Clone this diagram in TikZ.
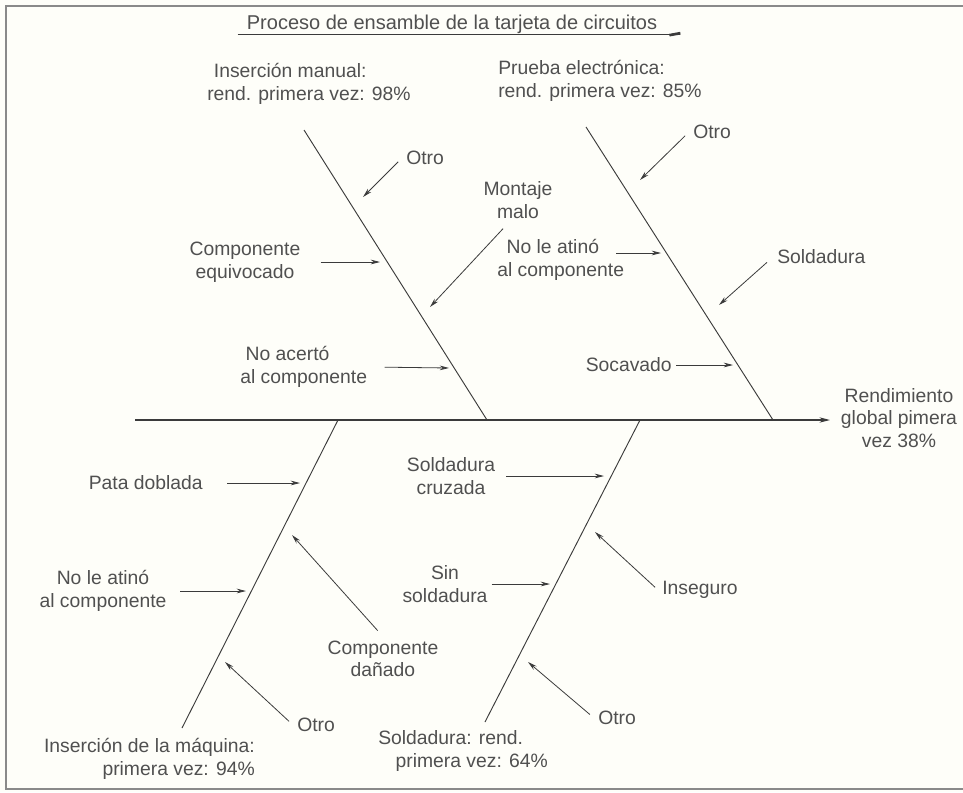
\documentclass[tikz,border=0pt]{standalone}
\usepackage{fontspec}
\setmainfont{Liberation Sans}
\usepackage{xcolor}
\usepackage{tikz}
\usetikzlibrary{arrows.meta, calc}
\definecolor{inkgray}{HTML}{3b3b3b}
\definecolor{textgray}{HTML}{505050}
\definecolor{framegray}{HTML}{8a8a8a}
\definecolor{paper}{HTML}{FEFEF9}
\tikzstyle{lbl} = [font=\fontsize{14.5}{17}\selectfont, text=textgray, inner sep=3pt]
\tikzstyle{bone} = [draw=inkgray, line width=0.7pt]
\tikzstyle{spine} = [draw=inkgray, line width=0.8pt, -{Stealth[length=8pt, width=4pt]}]
\tikzstyle{arrow} = [draw=inkgray, line width=0.6pt, -{Stealth[length=7pt, width=3.5pt]}]

\begin{document}
\begin{tikzpicture}[x=0.75pt, y=-0.75pt]
  \fill[paper] (0,0) rectangle (963,792);
  \useasboundingbox (0,0) rectangle (963,792);
  \draw[framegray, line width=1.2pt] (963,6) -- (6,6) -- (6,789) -- (963,789);

  \node (ttl) [lbl, font=\fontsize{15}{18}\selectfont] at (452,24) {Proceso de ensamble de la tarjeta de circuitos};
  \draw[inkgray, line width=0.8pt] ($(ttl.base west)+(-5,5)$) -- ($(ttl.base east)+(19,5)$);
  \draw[inkgray, line width=2pt] ($(ttl.base east)+(8,6)$) -- ($(ttl.base east)+(19,4)$);

  \coordinate (tail) at (135,420);
  \coordinate (head) at (830,420);
  \coordinate (ma) at (304,130); \coordinate (mb) at (487,420);
  \coordinate (pa) at (586,127); \coordinate (pb) at (773,420);
  \coordinate (ia) at (182,728); \coordinate (ib) at (338,420);
  \coordinate (sa) at (485,722); \coordinate (sb) at (640,420);

  \coordinate (m1) at (363,197);
  \coordinate (m2) at (380,262);
  \coordinate (m3) at (430,307);
  \coordinate (m4) at (449,368);
  \coordinate (p1) at (640,180);
  \coordinate (p2) at (661,253);
  \coordinate (p3) at (719,305);
  \coordinate (p4) at (733,365);
  \coordinate (i1) at (300,483);
  \coordinate (i2) at (292,535);
  \coordinate (i3) at (246,591);
  \coordinate (i4) at (225,662);
  \coordinate (s1) at (604,476);
  \coordinate (s2) at (595,532);
  \coordinate (s3) at (550,584);
  \coordinate (s4) at (528,662);

  \draw[spine] (tail) -- (head);
  \draw[bone] (ma) -- (mb);
  \draw[bone] (pa) -- (pb);
  \draw[bone] (ia) -- (ib);
  \draw[bone] (sa) -- (sb);

  \node (lMan) [lbl, anchor=west, align=left] at (203,84) {\hspace*{5pt}Inserción manual:\\rend. primera vez: 98\%};
  \node (lPru) [lbl, anchor=west, align=left] at (494,81) {Prueba electrónica:\\rend. primera vez: 85\%};
  \node (oMan) [lbl, anchor=west] at (402,158) {Otro};
  \node (cEq) [lbl, align=center] at (245,262) {Componente\\equivocado};
  \node (mMal) [lbl, align=center] at (518,200) {Montaje\\malo};
  \node (nAc) [lbl, anchor=west, align=left] at (236,367) {\hspace*{4pt}No acertó\\al componente};
  \node (nlaT) [lbl, anchor=west, align=left] at (493,260) {\hspace*{7pt}No le atinó\\al componente};
  \node (oPru) [lbl, anchor=west] at (689,132) {Otro};
  \node (soldT) [lbl, anchor=west] at (773,257) {Soldadura};
  \node (soc) [lbl, anchor=east] at (676,365) {Socavado};
  \node (rend) [lbl, align=center] at (899,418) {Rendimiento\\global pimera\\vez 38\%};

  \node (pata) [lbl, anchor=east] at (207,483) {Pata doblada};
  \node (cDan) [lbl, align=center] at (383,659) {Componente\\dañado};
  \node (nlaB) [lbl, align=center] at (103,591) {No le atinó\\al componente};
  \node (oIns) [lbl, anchor=west] at (293,725) {Otro};
  \node (lIns) [lbl, anchor=east, align=right] at (259,759) {Inserción de la máquina:\\primera vez: 94\%};

  \node (sCru) [lbl, align=center] at (451,476) {Soldadura\\cruzada};
  \node (ins) [lbl, anchor=west] at (658,590) {Inseguro};
  \node (sSin) [lbl, align=center] at (445,584) {Sin\\soldadura};
  \node (oSol) [lbl, anchor=west] at (594,718) {Otro};
  \node (lSol) [lbl, anchor=west, align=left] at (374,751) {Soldadura: rend.\\\hspace*{13pt}primera vez: 64\%};

  \draw[arrow, shorten <=4pt] (oMan.west) -- (m1);
  \draw[arrow, shorten <=12pt] (cEq.east) -- (m2);
  \draw[arrow] ($(mMal.south)+(-15,6)$) -- (m3);
  \draw[arrow, shorten <=10pt] (nAc.east) -- (m4);
  \draw[arrow, shorten <=4pt] (oPru.west) -- (p1);
  \draw[arrow] ($(nlaT.east)+(-12,-7)$) -- (p2);
  \draw[arrow, shorten <=6pt] (soldT.west) -- (p3);
  \draw[arrow] (soc.east) -- (p4);

  \draw[arrow, shorten <=15pt] (pata.east) -- (i1);
  \draw[arrow, shorten <=6pt] (cDan.north) -- (i2);
  \draw[arrow, shorten <=7pt] (nlaB.east) -- (i3);
  \draw[arrow, shorten <=4pt] (oIns.west) -- (i4);

  \draw[arrow, shorten <=5pt] (sCru.east) -- (s1);
  \draw[arrow, shorten <=3pt] (ins.west) -- (s2);
  \draw[arrow] (sSin.east) -- (s3);
  \draw[arrow, shorten <=4pt] (oSol.west) -- (s4);
\end{tikzpicture}
\end{document}
